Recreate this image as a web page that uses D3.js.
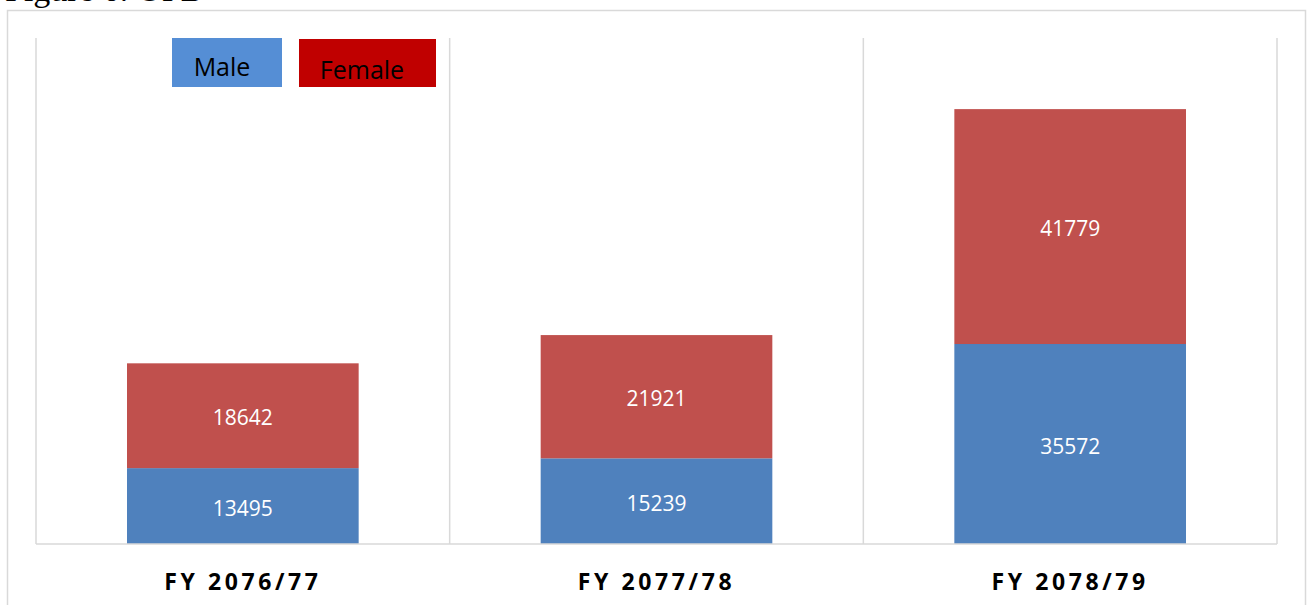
<!DOCTYPE html>
<html>
<head>
<meta charset="utf-8">
<script src="https://cdn.jsdelivr.net/npm/d3@7"></script>
<style>
  body { margin: 0; background: #fff; }
  svg { display: block; }
</style>
</head>
<body>
<svg id="chart" width="1311" height="605"></svg>
<script>
const categories = ["FY 2076/77", "FY 2077/78", "FY 2078/79"];
const maleValues = [13495, 15239, 35572];
const femaleValues = [18642, 21921, 41779];
const seriesNames = ["Male", "Female"];

const svg = d3.select("#chart");
const W = 1311, H = 605;
const margin = { top: 38, right: 34, bottom: 61, left: 36 };
const width = W - margin.left - margin.right;
const height = H - margin.top - margin.bottom;

// title, cut off at the top edge like in the source picture
svg.append("text")
    .attr("x", 5)
    .attr("y", 1)
    .style("font-family", "'Liberation Serif', 'Times New Roman', serif")
    .style("font-size", "34px")
    .attr("fill", "#000")
    .text("Figure 6: OPD");

// outer chart border
svg.append("rect")
    .attr("x", 7.5)
    .attr("y", 10.5)
    .attr("width", 1298)
    .attr("height", 620)
    .attr("fill", "none")
    .attr("stroke", "#d9d9d9")
    .attr("stroke-width", 1.5);

const g = svg.append("g")
    .attr("transform", `translate(${margin.left},${margin.top})`);

const x = d3.scaleBand()
    .domain(categories)
    .range([0, width])
    .paddingInner(0.44)
    .paddingOuter(0.22);

const y = d3.scaleLinear()
    .domain([0, 90000])
    .range([height, 0]);

// vertical separators between categories
const step = x.step();
const bounds = d3.range(categories.length + 1).map(i => i * step);
g.selectAll(".sep")
    .data(bounds)
    .join("line")
    .attr("class", "sep")
    .attr("x1", d => d)
    .attr("x2", d => d)
    .attr("y1", 0)
    .attr("y2", height)
    .attr("stroke", "#d9d9d9")
    .attr("stroke-width", 1.5);

const stackData = categories.map((c, i) => ({ cat: c, Male: maleValues[i], Female: femaleValues[i] }));
const stacked = d3.stack().keys(seriesNames)(stackData);
const colors = { Male: "#4f81bd", Female: "#c0504d" };

const layers = g.selectAll(".layer")
    .data(stacked)
    .join("g")
    .attr("class", "layer")
    .attr("fill", d => colors[d.key]);

layers.selectAll("rect")
    .data(d => d)
    .join("rect")
    .attr("x", d => x(d.data.cat))
    .attr("y", d => y(d[1]))
    .attr("width", x.bandwidth())
    .attr("height", d => y(d[0]) - y(d[1]));

layers.selectAll("text")
    .data(d => d)
    .join("text")
    .attr("x", d => x(d.data.cat) + x.bandwidth() / 2)
    .attr("y", d => (y(d[0]) + y(d[1])) / 2)
    .attr("dy", "0.46em")
    .attr("text-anchor", "middle")
    .attr("fill", "#fff")
    .style("font-family", "'Open Sans', sans-serif")
    .style("font-size", "21px")
    .text(d => d[1] - d[0]);

// baseline
g.append("line")
    .attr("x1", 0)
    .attr("x2", width)
    .attr("y1", height)
    .attr("y2", height)
    .attr("stroke", "#d9d9d9")
    .attr("stroke-width", 1.5);

// category labels
const xAxis = g.append("g")
    .attr("transform", `translate(0,${height})`)
    .call(d3.axisBottom(x).tickSize(0).tickPadding(30));
xAxis.select(".domain").remove();
xAxis.selectAll("text")
    .attr("fill", "#000")
    .style("font-family", "'Open Sans', sans-serif")
    .style("font-size", "23px")
    .style("font-weight", "bold")
    .style("letter-spacing", "3.6px");

// legend boxes
const legend = [
    { name: "Male", x: 172, y: 38, w: 110, h: 49, fill: "#558ed5", tx: 222, ty: 76 },
    { name: "Female", x: 299, y: 39, w: 137, h: 48, fill: "#c00000", tx: 362, ty: 79 }
];
const lg = svg.selectAll(".legend")
    .data(legend)
    .join("g")
    .attr("class", "legend");
lg.append("rect")
    .attr("x", d => d.x)
    .attr("y", d => d.y)
    .attr("width", d => d.w)
    .attr("height", d => d.h)
    .attr("fill", d => d.fill);
lg.append("text")
    .attr("x", d => d.tx)
    .attr("y", d => d.ty)
    .attr("text-anchor", "middle")
    .attr("fill", "#000")
    .style("font-family", "'Open Sans', sans-serif")
    .style("font-size", "25px")
    .text(d => d.name);
</script>
</body>
</html>
